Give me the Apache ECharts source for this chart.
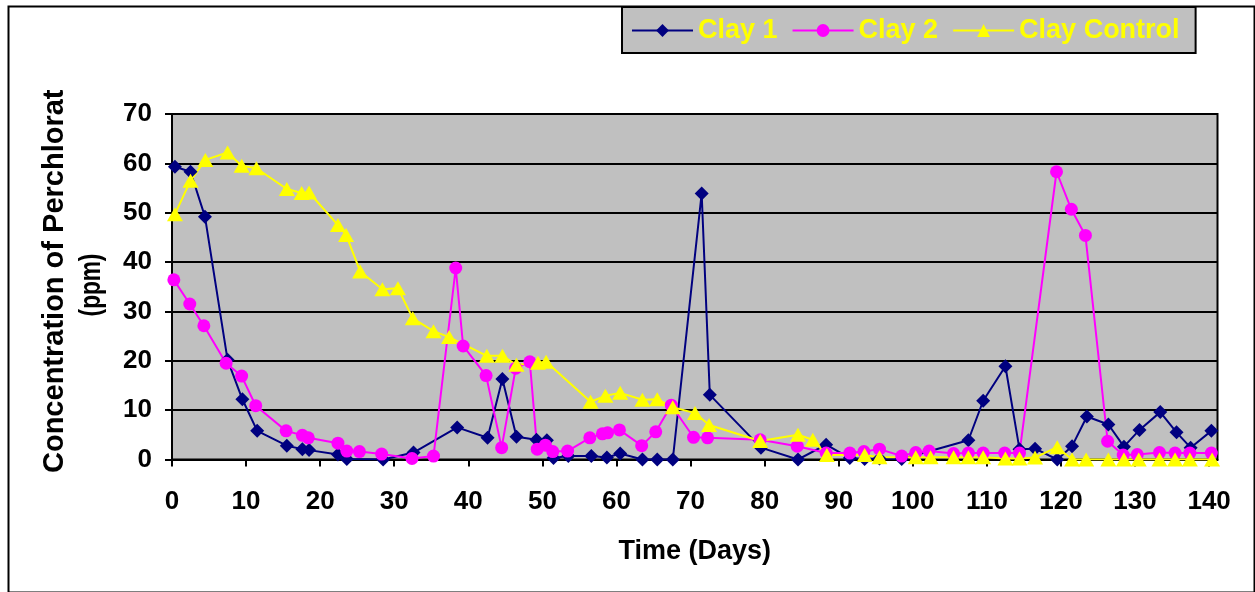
<!DOCTYPE html>
<html>
<head>
<meta charset="utf-8">
<script src="https://cdn.jsdelivr.net/npm/echarts@6/dist/echarts.min.js"></script>
<style>
html,body{margin:0;padding:0;background:#fff;}
#chart{width:1255px;height:592px;}
</style>
</head>
<body>
<div id="chart"></div>
<script>
// ---- Data ----
const clay1Days = [0.4, 2.5, 4.45, 7.5, 9.5, 11.5, 15.5, 17.6, 18.5, 22.4, 23.6, 28.5, 32.6, 38.5, 42.6, 44.6, 46.5, 49.2, 50.6, 51.5, 53.5, 56.6, 58.7, 60.5, 63.5, 65.5, 67.6, 71.5, 72.6, 79.5, 84.5, 88.3, 91.5, 93.5, 95.5, 98.5, 107.5, 109.5, 112.5, 114.4, 116.5, 119.5, 121.5, 123.5, 126.4, 128.5, 130.6, 133.4, 135.6, 137.5, 140.3];
const clay1Values = [59.3, 58.3, 49.2, 20.2, 12.2, 5.8, 2.8, 2.1, 1.9, 1.0, 0.1, 0, 1.4, 6.5, 4.4, 16.3, 4.6, 4.0, 3.9, 0.3, 0.7, 0.7, 0.4, 1.2, 0, 0, 0, 53.9, 13.1, 2.4, 0, 3.0, 0.3, 0.1, 0.2, 0.1, 3.9, 11.9, 18.9, 2.1, 2.2, 0, 2.7, 8.7, 7.1, 2.6, 6.0, 9.6, 5.5, 2.4, 5.8];

const clay2Days = [0.25, 2.4, 4.3, 7.3, 9.4, 11.3, 15.4, 17.6, 18.4, 22.4, 23.6, 25.3, 28.3, 32.4, 35.3, 38.3, 39.3, 42.4, 44.5, 46.4, 48.3, 49.3, 50.4, 51.4, 53.4, 56.4, 58.1, 58.8, 60.4, 63.4, 65.3, 67.4, 70.4, 72.3, 79.4, 84.4, 88.3, 91.5, 93.4, 95.5, 98.5, 100.4, 102.2, 105.5, 107.5, 109.5, 112.4, 114.4, 119.4, 121.4, 123.3, 126.3, 128.4, 130.3, 133.3, 135.4, 137.4, 140.3];
const clay2Values = [36.4, 31.5, 27.1, 19.5, 16.9, 10.9, 5.8, 4.9, 4.4, 3.3, 1.7, 1.6, 1.1, 0.2, 0.7, 38.8, 23.0, 17.0, 2.4, 18.5, 19.8, 2.1, 2.9, 1.6, 1.7, 4.4, 5.2, 5.4, 6.0, 2.8, 5.6, 11.0, 4.5, 4.4, 4.0, 2.7, 1.3, 1.3, 1.6, 2.1, 0.7, 1.4, 1.7, 1.2, 1.3, 1.3, 1.3, 1.3, 58.3, 50.7, 45.4, 3.7, 0.9, 1.0, 1.4, 1.3, 1.3, 1.3];

const controlDays = [0.4, 2.5, 4.5, 7.5, 9.4, 11.4, 15.5, 17.5, 18.5, 22.4, 23.5, 25.4, 28.4, 30.5, 32.5, 35.3, 37.4, 42.5, 44.6, 46.5, 49.4, 50.5, 56.5, 58.5, 60.5, 63.5, 65.5, 67.6, 70.6, 72.5, 79.4, 84.5, 86.5, 88.4, 93.5, 95.5, 100.4, 102.4, 105.5, 107.5, 109.5, 112.5, 114.4, 116.5, 119.5, 121.5, 123.4, 126.4, 128.5, 130.5, 133.3, 135.4, 137.4, 140.4];
const controlValues = [49.7, 56.5, 60.7, 62.2, 59.5, 59.0, 54.8, 54.0, 54.1, 47.5, 45.5, 38.1, 34.5, 34.7, 28.6, 26.0, 24.8, 21.0, 21.0, 19.2, 19.6, 19.8, 11.7, 12.9, 13.5, 12.1, 12.2, 10.6, 9.4, 7.0, 3.75, 5.0, 4.0, 0.9, 0.9, 0.45, 0.45, 0.45, 0.45, 0.45, 0.45, 0.2, 0.2, 0.4, 2.5, 0, 0, 0, 0, 0, 0, 0, 0, 0];

const seriesNames = ['Clay 1', 'Clay 2', 'Clay Control'];
const xTicks = [0, 10, 20, 30, 40, 50, 60, 70, 80, 90, 100, 110, 120, 130, 140];
const yTicks = [0, 10, 20, 30, 40, 50, 60, 70];
const xTitle = 'Time (Days)';
const yTitleLine1 = 'Concentration of Perchlorat';
const yTitleLine2 = '(ppm)';

// ---- Build ----
const FONT = 'Arial, "Liberation Sans", sans-serif';
const pair = (xs, ys) => xs.map((x, i) => [x, ys[i]]);

const chart = echarts.init(document.getElementById('chart'), null, {renderer: 'canvas'});
chart.setOption({
  animation: false,
  backgroundColor: '#ffffff',
  grid: {
    left: 172, right: 37.5, top: 114, bottom: 132.5,
    show: true, backgroundColor: '#C0C0C0', borderColor: '#000', borderWidth: 2
  },
  legend: {
    left: 622, top: 7,
    padding: [10, 16, 9, 9],
    itemGap: 14, itemWidth: 61, itemHeight: 16,
    backgroundColor: '#C0C0C0', borderColor: '#000', borderWidth: 2,
    textStyle: {color: '#FFFF00', fontSize: 27, fontWeight: 'bold', fontFamily: FONT},
    data: seriesNames
  },
  xAxis: {
    type: 'value', min: 0, max: 141.13, interval: 10,
    name: xTitle, nameLocation: 'middle', nameGap: 79,
    nameTextStyle: {color: '#000', fontSize: 27, fontWeight: 'bold', fontFamily: FONT},
    axisLine: {show: true, onZero: false, lineStyle: {color: '#000', width: 2}},
    axisTick: {show: true, length: 7, lineStyle: {color: '#000', width: 2}, customValues: xTicks},
    axisLabel: {color: '#000', fontSize: 26, fontWeight: 'bold', fontFamily: FONT, margin: 29, customValues: xTicks},
    splitLine: {show: false}
  },
  yAxis: {
    type: 'value', min: 0, max: 70, interval: 10,
    axisLine: {show: true, lineStyle: {color: '#000', width: 2}},
    axisTick: {show: true, length: 7, lineStyle: {color: '#000', width: 2}},
    axisLabel: {color: '#000', fontSize: 26, fontWeight: 'bold', fontFamily: FONT, margin: 20,
      customValues: yTicks},
    splitLine: {show: true, lineStyle: {color: '#000', width: 2}}
  },
  graphic: [
    {type: 'rect', left: 6, top: 4, z: 100, silent: true,
      shape: {width: 1246, height: 586}, style: {fill: 'none', stroke: '#000', lineWidth: 2}},
    {type: 'text', x: 55, y: 473, rotation: Math.PI / 2, z: 100,
      style: {text: yTitleLine1, font: 'bold 29px ' + FONT, fill: '#000', align: 'left', verticalAlign: 'middle'}},
    {type: 'text', x: 92, y: 285, rotation: Math.PI / 2, scaleX: 0.78, z: 100,
      style: {text: yTitleLine2, font: 'bold 29px ' + FONT, fill: '#000', align: 'center', verticalAlign: 'middle'}}
  ],
  series: [
    {name: seriesNames[0], type: 'line', data: pair(clay1Days, clay1Values),
      symbol: 'diamond', symbolSize: [14, 14], showAllSymbol: true,
      lineStyle: {color: '#000080', width: 2}, itemStyle: {color: '#000080'}},
    {name: seriesNames[1], type: 'line', data: pair(clay2Days, clay2Values),
      symbol: 'circle', symbolSize: 13, showAllSymbol: true,
      lineStyle: {color: '#FF00FF', width: 2}, itemStyle: {color: '#FF00FF'}},
    {name: seriesNames[2], type: 'line', data: pair(controlDays, controlValues),
      symbol: 'triangle', symbolSize: [16, 14], showAllSymbol: true,
      lineStyle: {color: '#FFFF00', width: 2}, itemStyle: {color: '#FFFF00'}}
  ]
});
</script>
</body>
</html>
